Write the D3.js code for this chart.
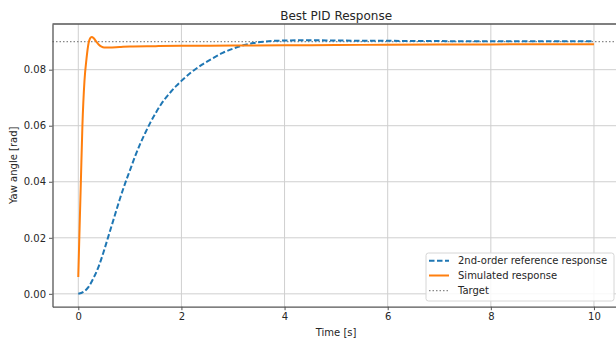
<!DOCTYPE html>
<html><head><meta charset="utf-8">
<script src="https://cdn.jsdelivr.net/npm/d3@7"></script>
<style>body{margin:0;background:#fff}svg{display:block}text{font-family:"DejaVu Sans",sans-serif;fill:#262626}</style>
</head><body>
<script>
const refT = [0,0.1,0.2,0.3,0.4,0.5,0.6,0.7,0.8,0.9,1.0,1.1,1.2,1.3,1.4,1.5,1.6,1.7,1.8,1.9,2.0,2.2,2.4,2.6,2.8,3.0,3.2,3.4,3.6,3.8,4.0,4.5,5,6,7,8,9,10];
const refY = [0,0.0007,0.0025,0.0058,0.0100,0.0155,0.0215,0.0275,0.0335,0.0390,0.0440,0.0490,0.0535,0.0575,0.0612,0.0645,0.0675,0.0700,0.0722,0.0742,0.0760,0.0792,0.0818,0.0840,0.0860,0.0875,0.0887,0.0895,0.0900,0.0903,0.0904,0.0905,0.0904,0.0903,0.0902,0.0901,0.0901,0.0901];
const simT = [0,0.02,0.05,0.08,0.12,0.16,0.2,0.23,0.26,0.3,0.35,0.4,0.45,0.5,0.6,0.8,1.0,1.5,2,3,4,5,6,7,8,9,10];
const simY = [0.006,0.020,0.040,0.060,0.076,0.084,0.0895,0.0912,0.0917,0.0912,0.0900,0.0889,0.0882,0.0879,0.0879,0.0881,0.0883,0.0884,0.0885,0.0886,0.0887,0.0888,0.0889,0.0890,0.0890,0.0891,0.0891];
const target = 0.09;
const xTicks = [0,2,4,6,8,10];
const yTicks = [0,0.02,0.04,0.06,0.08];
const labels = {title:"Best PID Response", x:"Time [s]", y:"Yaw angle [rad]"};
const legendItems = ["2nd-order reference response","Simulated response","Target"];

const W=616,H=342;
const L=52.5,R=619.75,T=24,B=306.7;
const FS=10;
const svg=d3.select("body").append("svg").attr("width",W).attr("height",H);
const x=d3.scaleLinear().domain([-0.5,10.5]).range([L,R]);
const y=d3.scaleLinear().domain([-0.00459,0.0963]).range([B,T]);

// grid
const g=svg.append("g");
g.selectAll(".vg").data(xTicks).join("line").attr("x1",d=>x(d)).attr("x2",d=>x(d)).attr("y1",T).attr("y2",B).attr("stroke","#cfcfcf").attr("stroke-width",1);
g.selectAll(".hg").data(yTicks).join("line").attr("x1",L).attr("x2",R).attr("y1",d=>y(d)).attr("y2",d=>y(d)).attr("stroke","#cfcfcf").attr("stroke-width",1);

// target
svg.append("line").attr("x1",L).attr("x2",R).attr("y1",y(target)).attr("y2",y(target)).attr("stroke","#888").attr("stroke-width",1.2).attr("stroke-dasharray","1.5,2");

const line=d3.line().x(d=>x(d[0])).y(d=>y(d[1])).curve(d3.curveMonotoneX);
svg.append("path").datum(refT.map((t,i)=>[t,refY[i]])).attr("d",line).attr("fill","none").attr("stroke","#1f77b4").attr("stroke-width",2).attr("stroke-dasharray","5.5,2.5");
svg.append("path").datum(simT.map((t,i)=>[t,simY[i]])).attr("d",line).attr("fill","none").attr("stroke","#ff7f0e").attr("stroke-width",2);

// axes
const xa=svg.append("g").attr("transform",`translate(0,${B})`).call(d3.axisBottom(x).tickValues(xTicks).tickFormat(d3.format("d")).tickSize(3.5).tickSizeOuter(0));
const ya=svg.append("g").attr("transform",`translate(${L},0)`).call(d3.axisLeft(y).tickValues(yTicks).tickFormat(d3.format(".2f")).tickSize(3.5).tickSizeOuter(0));
[xa,ya].forEach(a=>{a.select(".domain").attr("stroke","#555").attr("stroke-width",1.3);a.selectAll(".tick line").attr("stroke","#555");a.selectAll("text").attr("font-family","DejaVu Sans").attr("font-size",FS).attr("fill","#262626");});
xa.selectAll("text").attr("dy","0.71em").attr("y",6.5);
ya.selectAll("text").attr("x",-6.5);
svg.append("line").attr("x1",L).attr("x2",R).attr("y1",T).attr("y2",T).attr("stroke","#555").attr("stroke-width",1.3);

svg.append("text").attr("x",(L+R)/2).attr("y",19.5).attr("text-anchor","middle").attr("font-size",12).text(labels.title);
svg.append("text").attr("x",(L+R)/2).attr("y",335.5).attr("text-anchor","middle").attr("font-size",FS).text(labels.x);
svg.append("text").attr("transform",`translate(16.5,${(T+B)/2}) rotate(-90)`).attr("text-anchor","middle").attr("font-size",FS).text(labels.y);

// legend
const lg=svg.append("g");
lg.append("rect").attr("x",426).attr("y",253).attr("width",188).attr("height",48).attr("rx",2.5).attr("fill","#fff").attr("fill-opacity",0.85).attr("stroke","#d6d6d6");
const rowsY=[260.7,275.5,290.7];
const styles=[{c:"#1f77b4",w:2,da:"5.5,2.5"},{c:"#ff7f0e",w:2,da:null},{c:"#888",w:1.2,da:"1.5,2"}];
legendItems.forEach((s,i)=>{
  lg.append("line").attr("x1",429).attr("x2",449).attr("y1",rowsY[i]).attr("y2",rowsY[i]).attr("stroke",styles[i].c).attr("stroke-width",styles[i].w).attr("stroke-dasharray",styles[i].da);
  lg.append("text").attr("x",458).attr("y",rowsY[i]).attr("dy","0.35em").attr("font-size",FS).text(s);
});
</script>
</body></html>
